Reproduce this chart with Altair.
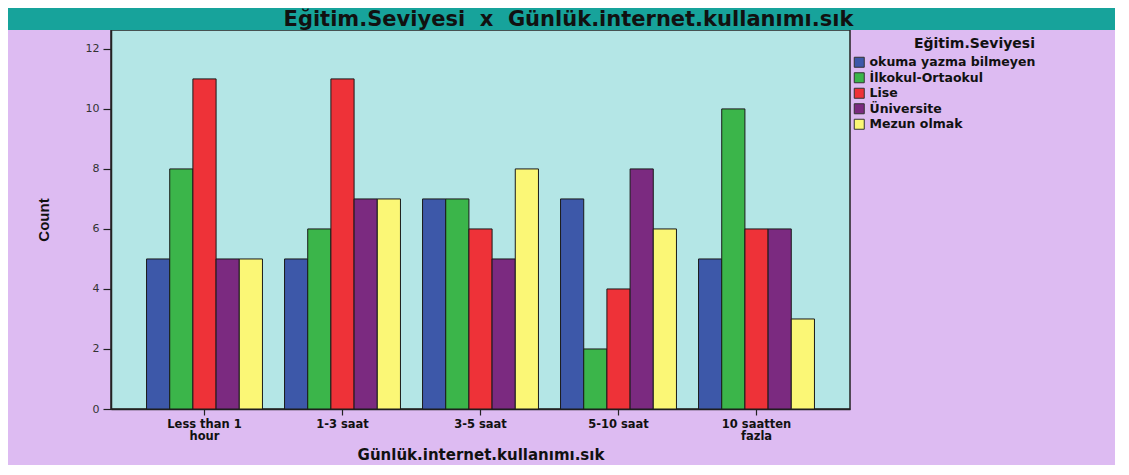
import altair as alt
import pandas as pd

title_text = "Eğitim.Seviyesi\u00a0\u00a0x\u00a0\u00a0Günlük.internet.kullanımı.sık"
categories = ["Less than 1 hour", "1-3 saat", "3-5 saat", "5-10 saat", "10 saatten fazla"]
levels = ["okuma yazma bilmeyen", "İlkokul-Ortaokul", "Lise", "Üniversite", "Mezun olmak"]
okuma = [5, 5, 7, 7, 5]
ilkokul = [8, 6, 7, 2, 10]
lise = [11, 11, 6, 4, 6]
universite = [5, 7, 5, 8, 6]
mezun = [5, 7, 8, 6, 3]
colors = ["#3d58a9", "#3bb54a", "#ee3238", "#7b2a80", "#fbf776"]
y_ticks = [0, 2, 4, 6, 8, 10, 12]

series = [okuma, ilkokul, lise, universite, mezun]
rows = []
for lev, vals in zip(levels, series):
    for cat, v in zip(categories, vals):
        rows.append({"cat": cat, "level": lev, "count": v})
df = pd.DataFrame(rows)

W, H = 739, 379
PL, PT, PR, PB = 103, 22, 265, 56
TOTAL_W = PL + W + PR

band = alt.Chart(pd.DataFrame({"b": [0]})).mark_rect(color="#17a39b", clip=False).encode(
    x=alt.value(-PL), x2=alt.value(TOTAL_W - PL), y=alt.value(-PT), y2=alt.value(0)
)

title = alt.Chart(pd.DataFrame({"title": [title_text]})).mark_text(
    font="DejaVu Sans", fontWeight="bold", fontSize=21, color="#111",
    align="center", baseline="alphabetic", clip=False
).encode(text="title:N", x=alt.value(W / 2 + 88), y=alt.value(-4))

label_expr = ("datum.label == 'Less than 1 hour' ? ['Less than 1', 'hour'] : "
              "datum.label == '10 saatten fazla' ? ['10 saatten', 'fazla'] : datum.label")

bars = alt.Chart(df).mark_bar(stroke="#1a1a1a", strokeWidth=1).encode(
    x=alt.X("cat:N", sort=categories,
            scale=alt.Scale(paddingInner=0.16, paddingOuter=0.2575),
            axis=alt.Axis(title="Günlük.internet.kullanımı.sık", labelAngle=0,
                          labelExpr=label_expr, labelFont="DejaVu Sans",
                          labelFontWeight="bold", labelFontSize=11.5, labelColor="#111",
                          labelLineHeight=12, labelPadding=3, tickSize=6,
                          titleFont="DejaVu Sans", titleFontWeight="bold",
                          titleFontSize=15, titleColor="#111",
                          titleBaseline="middle", titleY=45)),
    xOffset=alt.XOffset("level:N", sort=levels, scale=alt.Scale(paddingInner=0, paddingOuter=0)),
    y=alt.Y("count:Q", scale=alt.Scale(domain=[0, 12.63], nice=False),
            axis=alt.Axis(title="Count", values=y_ticks, grid=False,
                          labelFont="DejaVu Sans", labelFontSize=11, labelColor="#333",
                          labelPadding=4, tickSize=8,
                          titleFont="Liberation Sans", titleFontWeight="bold",
                          titleFontSize=15, titleColor="#111", titleAngle=270,
                          titleAlign="center", titleBaseline="middle",
                          titleX=-68, titleY=H / 2)),
    color=alt.Color("level:N", sort=levels,
                    scale=alt.Scale(domain=levels, range=colors),
                    legend=alt.Legend(title="Eğitim.Seviyesi", orient="none",
                                      legendX=742, legendY=7, symbolType="square",
                                      symbolSize=100, symbolStrokeColor="#333",
                                      symbolStrokeWidth=1, symbolOpacity=1,
                                      labelFont="DejaVu Sans", labelFontWeight="bold",
                                      labelFontSize=12.5, labelColor="#111",
                                      labelLimit=320,
                                      titleFont="DejaVu Sans", titleFontWeight="bold",
                                      titleFontSize=14, titleColor="#111",
                                      titleAnchor="end", titlePadding=5,
                                      rowPadding=0.5, labelOffset=4, padding=0)),
)

chart = alt.layer(band, title, bars).properties(
    width=W, height=H,
    autosize=alt.AutoSizeParams(type="none"),
    padding={"left": PL, "top": PT, "right": PR, "bottom": PB},
    background="#ddbbf2",
).configure_view(
    fill="#b4e6e6", stroke="#222", strokeWidth=1.5
).configure_axis(
    domainColor="#222", domainWidth=1.5, tickColor="#222", tickWidth=1.2, grid=False
)

chart.save("out.html", embed_options={"renderer": "svg", "actions": False})
